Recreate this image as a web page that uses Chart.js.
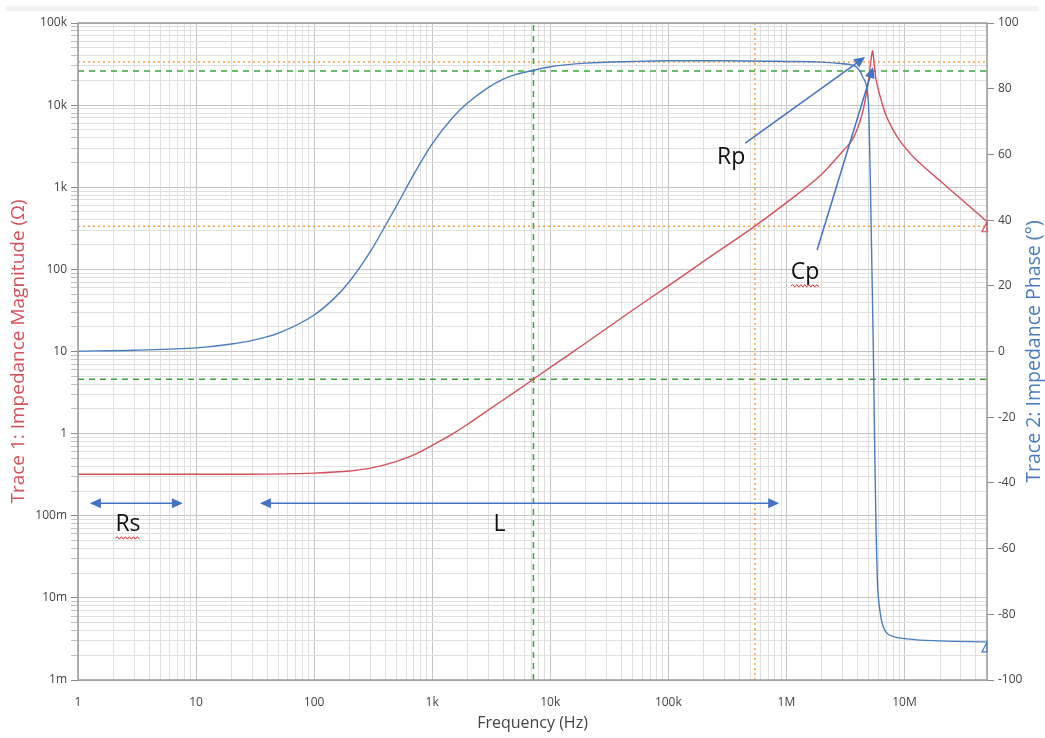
<!DOCTYPE html>
<html>
<head>
<meta charset="utf-8">
<script src="https://cdn.jsdelivr.net/npm/chart.js@4.4.1/dist/chart.umd.min.js"></script>
<style>
  html, body { margin: 0; padding: 0; background: #fff; }
</style>
</head>
<body>
<canvas id="chart" width="1045" height="738"></canvas>
<script>
// Trace 1: impedance magnitude (ohm)
const magFreq = [1, 10, 30, 100, 200, 300, 500, 700, 1000, 1500, 2000, 3000, 5000, 7200, 10000, 20000, 50000,
  100000, 200000, 541000, 1e6, 2e6, 3e6, 3.62e6, 4e6, 4.4e6, 4.7e6, 5e6, 5.2e6, 5.36e6, 5.45e6, 5.55e6,
  5.7e6, 6e6, 6.3e6, 6.6e6, 7e6, 7.5e6, 8e6, 9e6, 10e6, 11e6, 12e6, 15e6, 20e6, 30e6, 50e6];
const magOhm = [0.32, 0.32, 0.32, 0.33, 0.35, 0.38, 0.46, 0.55, 0.72, 1.0, 1.3, 1.95, 3.2, 4.6, 6.4, 12.7, 32,
  63, 126, 336, 650, 1450, 2750, 3800, 5200, 8000, 12600, 22000, 35000, 46000, 40000, 31000,
  22000, 15500, 12000, 9500, 7400, 6000, 5000, 3800, 3100, 2650, 2300, 1720, 1200, 725, 380];

// Trace 2: impedance phase (deg)
const phaseFreq = [1, 3, 10, 20, 30, 50, 100, 150, 200, 300, 400, 500, 700, 1000, 1500, 2000, 3000, 4000, 5000,
  7200, 10000, 20000, 50000, 100000, 300000, 1e6, 2e6, 3e6, 3.87e6, 4.41e6, 4.9e6, 5e6, 5.15e6, 5.3e6, 5.45e6,
  5.6e6, 5.75e6, 5.9e6, 6.2e6, 6.5e6, 7e6, 8e6, 10e6, 20e6, 50e6];
const phaseDeg = [0.1, 0.4, 1.1, 2.3, 3.4, 5.6, 11.1, 16.4, 21.4, 30.5, 38.2, 44.4, 54, 63.2, 71.3, 75.7, 80.4, 82.9, 84.2,
  85.6, 86.7, 87.8, 88.3, 88.5, 88.5, 88.3, 88.1, 87.6, 86.7, 83.7, 77.6, 72, 50, 25, 0,
  -30, -55, -70, -79, -83, -85.5, -86.7, -87.4, -88.1, -88.4];

// cursors
const cursorFreq = [7200, 541000];      // green, orange
const cursorOhm = [4.6, 336];           // green, orange
const cursorDeg = [85.4, 88.1];         // green, orange

// tick labels
const freqDecades = [1, 10, 100, 1e3, 1e4, 1e5, 1e6, 1e7];
const freqLabels = ['1', '10', '100', '1k', '10k', '100k', '1M', '10M'];
const ohmDecades = [1e-3, 1e-2, 1e-1, 1, 10, 100, 1e3, 1e4, 1e5];
const ohmLabels = ['1m', '10m', '100m', '1', '10', '100', '1k', '10k', '100k'];

// annotations in data units (freq, ohm)
const spans = [
  { label: 'Rs', from: 1.26, to: 7.73, ohm: 0.142, textF: 2.65, textOhm: 0.079, squiggle: true },
  { label: 'L', from: 34.7, to: 869000, ohm: 0.142, textF: 3720, textOhm: 0.079, squiggle: false }
];
const pointers = [
  { label: 'Rp', textF: 341000, textOhm: 2330, fromF: 448000, fromOhm: 3450, toF: 4.64e6, toOhm: 38600, squiggle: false },
  { label: 'Cp', textF: 1.44e6, textOhm: 92.7, fromF: 1.82e6, fromOhm: 172, toF: 5.42e6, toOhm: 29100, squiggle: true }
];

const RED = '#d4505c';
const BLUE = '#4a7dbf';
const GREEN = '#3aa63a';
const ORANGE = '#f7a040';
const ARROW = '#4472c4';
const LABEL_FONT = { family: 'Open Sans', size: 12 };

function logTicks(min, max) {
  const out = [];
  for (let e = Math.round(Math.log10(min)); e <= Math.round(Math.log10(max)); e++) {
    for (let s = 1; s <= 9; s++) {
      const v = s * Math.pow(10, e);
      if (v >= min * 0.999 && v <= max * 1.001) out.push({ value: v, major: s === 1 });
    }
  }
  return out;
}
function isDecade(v) {
  const l = Math.log10(v);
  return Math.abs(l - Math.round(l)) < 1e-6;
}
function decadeLabel(v, decades, labels) {
  for (let i = 0; i < decades.length; i++) {
    if (Math.abs(v / decades[i] - 1) < 1e-6) return labels[i];
  }
  return '';
}

const pts = (xs, ys) => xs.map((x, i) => ({ x: x, y: ys[i] }));
const cursorStyle = (color, dash) => ({
  borderColor: color, borderWidth: 1.5, borderDash: dash, pointRadius: 0, fill: false, order: 2
});

const datasets = [
  { label: 'Magnitude', data: pts(magFreq, magOhm), yAxisID: 'y', borderColor: RED,
    borderWidth: 1.4, pointRadius: 0, cubicInterpolationMode: 'monotone', order: 1 },
  { label: 'Phase', data: pts(phaseFreq, phaseDeg), yAxisID: 'y2', borderColor: BLUE,
    borderWidth: 1.4, pointRadius: 0, cubicInterpolationMode: 'monotone', order: 1 },
  Object.assign({ data: [{ x: cursorFreq[0], y: 1e-3 }, { x: cursorFreq[0], y: 1e5 }], yAxisID: 'y' }, cursorStyle(GREEN, [6, 5])),
  Object.assign({ data: [{ x: cursorFreq[1], y: 1e-3 }, { x: cursorFreq[1], y: 1e5 }], yAxisID: 'y' }, cursorStyle(ORANGE, [2, 3])),
  Object.assign({ data: [{ x: 1, y: cursorOhm[0] }, { x: 5e7, y: cursorOhm[0] }], yAxisID: 'y' }, cursorStyle(GREEN, [6, 5])),
  Object.assign({ data: [{ x: 1, y: cursorOhm[1] }, { x: 5e7, y: cursorOhm[1] }], yAxisID: 'y' }, cursorStyle(ORANGE, [2, 3])),
  Object.assign({ data: [{ x: 1, y: cursorDeg[0] }, { x: 5e7, y: cursorDeg[0] }], yAxisID: 'y2' }, cursorStyle(GREEN, [6, 5])),
  Object.assign({ data: [{ x: 1, y: cursorDeg[1] }, { x: 5e7, y: cursorDeg[1] }], yAxisID: 'y2' }, cursorStyle(ORANGE, [2, 3]))
];

function arrowHead(ctx, x1, y1, x2, y2) {
  const a = Math.atan2(y2 - y1, x2 - x1);
  const len = 11, w = 5;
  ctx.beginPath();
  ctx.moveTo(x2, y2);
  ctx.lineTo(x2 - len * Math.cos(a) + w * Math.sin(a), y2 - len * Math.sin(a) - w * Math.cos(a));
  ctx.lineTo(x2 - len * Math.cos(a) - w * Math.sin(a), y2 - len * Math.sin(a) + w * Math.cos(a));
  ctx.closePath();
  ctx.fill();
}
function squiggle(ctx, x0, x1, y) {
  ctx.save();
  ctx.strokeStyle = '#e03030';
  ctx.lineWidth = 1;
  ctx.beginPath();
  ctx.moveTo(x0, y);
  let up = true;
  for (let x = x0 + 2; x <= x1; x += 2) { ctx.lineTo(x, up ? y - 1.5 : y + 1); up = !up; }
  ctx.stroke();
  ctx.restore();
}

const decorations = {
  id: 'decorations',
  beforeDraw(chart) {
    const ctx = chart.ctx;
    ctx.save();
    ctx.fillStyle = '#f2f2f2';
    ctx.fillRect(6, 6, 1033, 5);
    ctx.restore();
  },
  afterDatasetsDraw(chart) {
    const ctx = chart.ctx;
    const sx = chart.scales.x, sy = chart.scales.y;
    const a = chart.chartArea;
    ctx.save();
    // frame
    ctx.strokeStyle = '#9a9a9a';
    ctx.lineWidth = 1.5;
    ctx.strokeRect(a.left, a.top, a.right - a.left, a.bottom - a.top);

    // end-of-trace markers
    [[0, RED], [1, BLUE]].forEach(([i, col]) => {
      const m = chart.getDatasetMeta(i).data;
      const p = m[m.length - 1];
      ctx.strokeStyle = col;
      ctx.lineWidth = 1.2;
      ctx.beginPath();
      ctx.moveTo(p.x, p.y);
      ctx.lineTo(p.x - 5, p.y + 10);
      ctx.lineTo(p.x, p.y + 10);
      ctx.closePath();
      ctx.stroke();
    });

    ctx.strokeStyle = ARROW;
    ctx.fillStyle = ARROW;
    ctx.lineWidth = 1.5;
    ctx.font = '23px "Open Sans"';
    ctx.textAlign = 'center';
    ctx.textBaseline = 'middle';

    spans.forEach(s => {
      const x1 = sx.getPixelForValue(s.from), x2 = sx.getPixelForValue(s.to);
      const y = sy.getPixelForValue(s.ohm);
      ctx.strokeStyle = ARROW; ctx.fillStyle = ARROW;
      ctx.beginPath(); ctx.moveTo(x1 + 6, y); ctx.lineTo(x2 - 6, y); ctx.stroke();
      arrowHead(ctx, x2, y, x1, y);
      arrowHead(ctx, x1, y, x2, y);
      const tx = sx.getPixelForValue(s.textF), ty = sy.getPixelForValue(s.textOhm);
      ctx.fillStyle = '#111';
      ctx.fillText(s.label, tx, ty);
      if (s.squiggle) {
        const w = ctx.measureText(s.label).width;
        squiggle(ctx, tx - w / 2, tx + w / 2, ty + 14);
      }
    });

    pointers.forEach(p => {
      const x1 = sx.getPixelForValue(p.fromF), y1 = sy.getPixelForValue(p.fromOhm);
      const x2 = sx.getPixelForValue(p.toF), y2 = sy.getPixelForValue(p.toOhm);
      ctx.strokeStyle = ARROW; ctx.fillStyle = ARROW;
      const ang = Math.atan2(y2 - y1, x2 - x1);
      ctx.beginPath(); ctx.moveTo(x1, y1); ctx.lineTo(x2 - 8 * Math.cos(ang), y2 - 8 * Math.sin(ang)); ctx.stroke();
      arrowHead(ctx, x1, y1, x2, y2);
      const tx = sx.getPixelForValue(p.textF), ty = sy.getPixelForValue(p.textOhm);
      ctx.fillStyle = '#111';
      ctx.fillText(p.label, tx, ty);
      if (p.squiggle) {
        const w = ctx.measureText(p.label).width;
        squiggle(ctx, tx - w / 2, tx + w / 2, ty + 14);
      }
    });
    ctx.restore();
  },
  afterDraw(chart) {
    const ctx = chart.ctx;
    const a = chart.chartArea;
    const cy = (a.top + a.bottom) / 2;
    ctx.save();
    ctx.font = '19px "Open Sans"';
    ctx.textAlign = 'center';
    ctx.textBaseline = 'middle';
    ctx.fillStyle = RED;
    ctx.translate(19, cy);
    ctx.rotate(-Math.PI / 2);
    ctx.fillText('Trace 1: Impedance Magnitude (\u03A9)', 0, 0);
    ctx.restore();

    ctx.save();
    ctx.font = '19.5px "Open Sans"';
    ctx.textAlign = 'center';
    ctx.textBaseline = 'middle';
    ctx.fillStyle = BLUE;
    ctx.translate(1034, cy);
    ctx.rotate(-Math.PI / 2);
    ctx.fillText('Trace 2: Impedance Phase (\u00B0)', 0, 0);
    ctx.restore();

    ctx.save();
    ctx.font = '16px "Open Sans"';
    ctx.textAlign = 'center';
    ctx.textBaseline = 'middle';
    ctx.fillStyle = '#444';
    ctx.fillText('Frequency (Hz)', (a.left + a.right) / 2, 723);
    ctx.restore();
  }
};

new Chart(document.getElementById('chart'), {
  type: 'line',
  data: { datasets: datasets },
  plugins: [decorations],
  options: {
    responsive: false,
    devicePixelRatio: 1,
    animation: false,
    layout: { padding: { top: 23, left: 0, right: 0, bottom: 0 } },
    plugins: { legend: { display: false }, tooltip: { enabled: false } },
    scales: {
      x: {
        type: 'logarithmic', min: 1, max: 5e7,
        afterBuildTicks: s => { s.ticks = logTicks(1, 5e7); },
        afterFit: s => { s.height = 58; },
        ticks: {
          autoSkip: false, maxRotation: 0, padding: 15, color: '#444', font: LABEL_FONT,
          callback: v => decadeLabel(v, freqDecades, freqLabels)
        },
        grid: {
          drawTicks: false,
          color: c => (c.tick && isDecade(c.tick.value)) ? '#c4c4c4' : '#e0e0e0',
          lineWidth: 1
        },
        border: { display: false }
      },
      y: {
        type: 'logarithmic', position: 'left', min: 1e-3, max: 1e5,
        afterBuildTicks: s => { s.ticks = logTicks(1e-3, 1e5); },
        afterFit: s => { s.width = 78; },
        ticks: {
          autoSkip: false, padding: 4, color: '#444', font: LABEL_FONT,
          callback: v => decadeLabel(v, ohmDecades, ohmLabels)
        },
        grid: {
          tickLength: 7,
          color: c => (c.tick && isDecade(c.tick.value)) ? '#c4c4c4' : '#e0e0e0',
          tickColor: c => (c.tick && isDecade(c.tick.value)) ? '#8a8a8a' : '#c0c0c0'
        },
        border: { display: false }
      },
      y2: {
        type: 'linear', position: 'right', min: -100, max: 100,
        afterFit: s => { s.width = 58; },
        ticks: { stepSize: 20, padding: 4, color: '#444', font: LABEL_FONT },
        grid: { drawOnChartArea: false, tickLength: 7, tickColor: '#8a8a8a' },
        border: { display: false }
      }
    }
  }
});
</script>
</body>
</html>
